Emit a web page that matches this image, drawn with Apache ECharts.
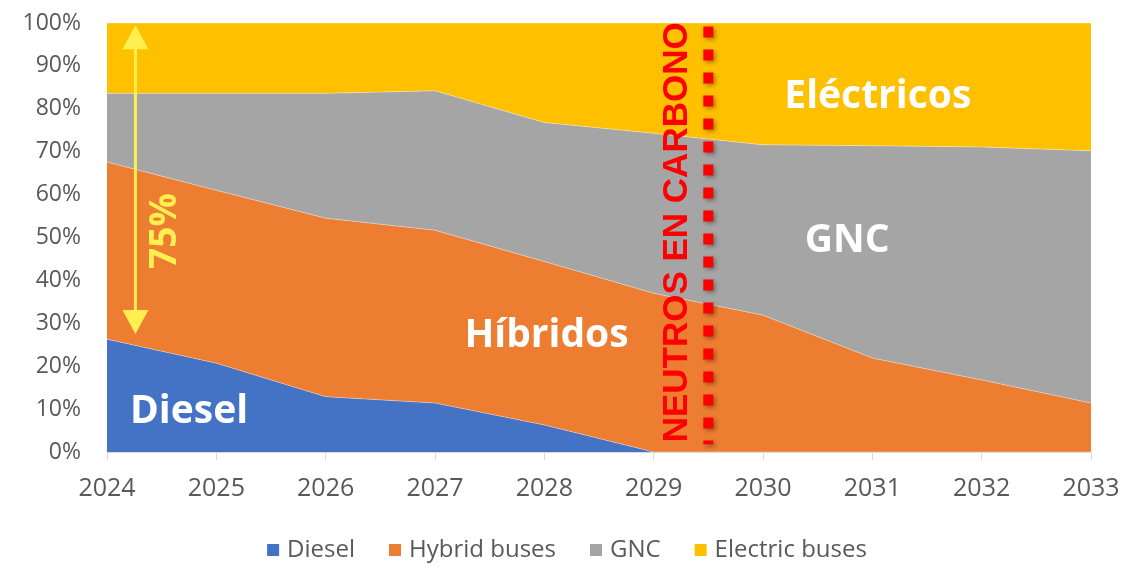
<!DOCTYPE html>
<html>
<head>
<meta charset="utf-8">
<script src="https://cdn.jsdelivr.net/npm/echarts@6/dist/echarts.min.js"></script>
<style>
html,body{margin:0;padding:0;background:#fff;}
#chart{width:1134px;height:573px;}
</style>
</head>
<body>
<div id="chart"></div>
<script>
const years = ['2024','2025','2026','2027','2028','2029','2030','2031','2032','2033'];
const diesel   = [26.3, 20.7, 12.9, 11.4, 6.3, 0, 0, 0, 0, 0];
const hybrid   = [41.3, 40.3, 41.6, 40.3, 38.1, 37.0, 31.9, 21.9, 16.8, 11.4];
const gnc      = [16.0, 22.6, 29.1, 32.5, 32.4, 37.3, 39.7, 49.5, 54.3, 58.8];
const electric = [16.4, 16.4, 16.4, 15.8, 23.2, 25.7, 28.4, 28.6, 28.9, 29.8];
const seriesNames = ['Diesel', 'Hybrid buses', 'GNC', 'Electric buses'];
const yTicks = [0,10,20,30,40,50,60,70,80,90,100];

// annotations in data coordinates: [category index (fractional), value %]
const annDiesel = {text:'Diesel', at:[0.75, 9.4]};
const annHib = {text:'Híbridos', at:[4.02, 27.1]};
const annGnc = {text:'GNC', at:[6.77, 49.3]};
const annElec = {text:'Eléctricos', at:[7.05, 82.8]};
const annNeutral = {text:'NEUTROS EN CARBONO', at:[5.22, 51.2]};
const neutralLineIdx = 5.5;
const arrowAt = {idx:0.26, from:99.5, to:27.5};
const annPct = {text:'75%', at:[0.535, 51.5]};

const colors = ['#4472C4', '#ED7D31', '#A5A5A5', '#FFC000'];
const dataSets = [diesel, hybrid, gnc, electric];

const chart = echarts.init(document.getElementById('chart'), null, {renderer:'canvas'});

const option = {
  animation: false,
  backgroundColor: '#ffffff',
  grid: {left: 107, right: 43, top: 23, bottom: 121},
  legend: {
    bottom: 6,
    left: 'center',
    itemWidth: 12,
    itemHeight: 12,
    itemGap: 34,
    icon: 'rect',
    textStyle: {fontFamily: 'Open Sans', fontSize: 24, color: '#595959', padding: [0, 0, 0, 3]},
    data: seriesNames
  },
  xAxis: {
    type: 'category',
    boundaryGap: false,
    data: years,
    axisLine: {lineStyle: {color: '#D9D9D9', width: 1}},
    axisTick: {show: true, length: 8, lineStyle: {color: '#D9D9D9'}},
    axisLabel: {fontFamily: 'Open Sans', fontSize: 25, color: '#595959', margin: 24}
  },
  yAxis: {
    type: 'value',
    min: 0,
    max: 100,
    interval: 10,
    axisLine: {show: false},
    axisTick: {show: false},
    splitLine: {show: false},
    axisLabel: {fontFamily: 'Open Sans', fontSize: 23, color: '#595959', margin: 26,
      formatter: v => v + '%'}
  },
  series: seriesNames.map((n, i) => ({
    name: n,
    type: 'line',
    stack: 'total',
    symbol: 'none',
    data: dataSets[i],
    itemStyle: {color: colors[i]},
    lineStyle: {width: 1, color: 'rgba(255,255,255,0.35)'},
    areaStyle: {color: colors[i], opacity: 1},
    z: 2
  }))
};
chart.setOption(option);

function px(idx, val) {
  const a = chart.convertToPixel({xAxisIndex: 0}, 0);
  const b = chart.convertToPixel({xAxisIndex: 0}, 1);
  const x = a + (b - a) * idx;
  const y = chart.convertToPixel({yAxisIndex: 0}, val);
  return [x, y];
}

const white = {fontFamily: 'Open Sans', fontWeight: 'bold', fontSize: 39, fill: '#ffffff'};
function label(ann, style, rot) {
  const p = px(ann.at[0], ann.at[1]);
  return {
    type: 'text', x: p[0], y: p[1], rotation: rot || 0, z: 100,
    style: Object.assign({text: ann.text, align: 'center', verticalAlign: 'middle'}, style)
  };
}

const lnTop = px(neutralLineIdx, 99.2);
const lnBot = px(neutralLineIdx, 1.8);
const aTop = px(arrowAt.idx, arrowAt.from);
const aBot = px(arrowAt.idx, arrowAt.to);
const yel = '#FFEF4F';
const headH = 24, headW = 13;

chart.setOption({
  graphic: [
    {type: 'line', z: 90, shape: {x1: lnTop[0], y1: lnTop[1], x2: lnBot[0], y2: lnBot[1]},
     style: {stroke: '#FF0000', lineWidth: 10, lineDash: [11, 12],
       shadowColor: 'rgba(0,0,0,0.35)', shadowBlur: 4, shadowOffsetX: 2, shadowOffsetY: 2}},
    label(annNeutral, {fontFamily: 'Liberation Sans', fontWeight: 'bold', fontSize: 35, fill: '#FF0000'}, Math.PI / 2),
    {type: 'line', z: 95, shape: {x1: aTop[0], y1: aTop[1] + headH - 2, x2: aBot[0], y2: aBot[1] - headH + 2},
     style: {stroke: yel, lineWidth: 3}},
    {type: 'polygon', z: 95, shape: {points: [[aTop[0], aTop[1]], [aTop[0] - headW, aTop[1] + headH], [aTop[0] + headW, aTop[1] + headH]]},
     style: {fill: yel}},
    {type: 'polygon', z: 95, shape: {points: [[aBot[0], aBot[1]], [aBot[0] - headW, aBot[1] - headH], [aBot[0] + headW, aBot[1] - headH]]},
     style: {fill: yel}},
    label(annPct, {fontFamily: 'Open Sans', fontWeight: 'bold', fontSize: 37, fill: yel}, Math.PI / 2),
    label(annDiesel, white),
    label(annHib, white),
    label(annGnc, white),
    label(annElec, white)
  ]
});
</script>
</body>
</html>
